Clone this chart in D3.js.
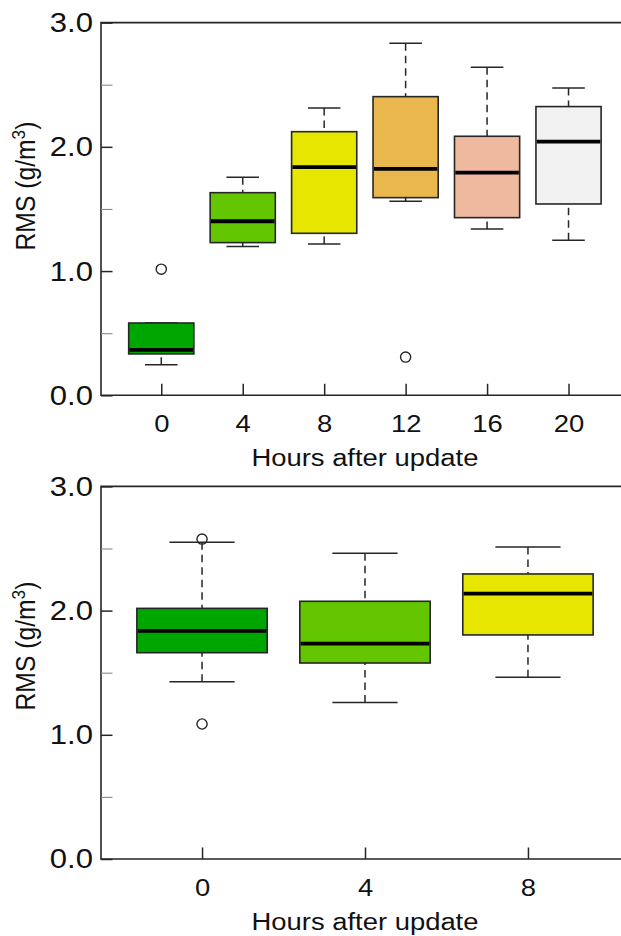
<!DOCTYPE html>
<html>
<head>
<meta charset="utf-8">
<script src="https://cdn.jsdelivr.net/npm/d3@7"></script>
<style>
  html, body { margin: 0; padding: 0; background: #fff; }
  svg { display: block; }
  text { font-family: "Liberation Sans", Arial, sans-serif; fill: #111; }
</style>
</head>
<body>
<svg id="chart" width="621" height="936"></svg>
<script>
// ---------------- DATA ----------------
// Top panel
const topHours = ["0", "4", "8", "12", "16", "20"];
const topColors = ["#00A600", "#63C600", "#E6E600", "#EAB64E", "#EEB99F", "#F2F2F2"];
const topLowerWhisker = [0.246, 1.197, 1.218, 1.562, 1.339, 1.248];
const topQ1 = [0.333, 1.229, 1.304, 1.591, 1.430, 1.540];
const topMedian = [0.366, 1.401, 1.836, 1.822, 1.792, 2.042];
const topQ3 = [0.582, 1.631, 2.122, 2.404, 2.085, 2.324];
const topUpperWhisker = [0.582, 1.755, 2.313, 2.834, 2.641, 2.474];
const topOutliers = [[1.015], [], [], [0.308], [], []];

// Bottom panel
const botHours = ["0", "4", "8"];
const botColors = ["#00A600", "#63C600", "#E6E600"];
const botLowerWhisker = [1.428, 1.261, 1.463];
const botQ1 = [1.661, 1.578, 1.804];
const botMedian = [1.836, 1.734, 2.136];
const botQ3 = [2.018, 2.075, 2.295];
const botUpperWhisker = [2.550, 2.461, 2.512];
const botOutliers = [[2.576, 1.087], [], []];

// Axis ticks
const yMajorTicks = [0, 1, 2, 3];
const yMinorTicks = [0.5, 1.5, 2.5];
const xTitle = "Hours after update";

// ---------------- DRAW ----------------
const svg = d3.select("#chart");
const FONT = 24.7;
const YFONT = 28;
const STRETCH = 1.11;
const INK = "#262626";

function stretchText(sel) {
  sel.each(function () {
    const t = d3.select(this);
    const x = +t.attr("x") || 0;
    t.attr("transform", `translate(${x},0) scale(${STRETCH},1) translate(${-x},0)`);
  });
}

function panel(cfg) {
  const n = cfg.hours.length;
  const x = d3.scaleLinear()
    .domain([0.5 - 0.04 * n, n + 0.5 + 0.04 * n])
    .range([cfg.left, cfg.right]);
  const y = d3.scaleLinear().domain([0, 3]).range([cfg.bottom, cfg.top]);
  const step = x(2) - x(1);
  const boxW = step * 0.8;
  const capW = boxW * 0.5;

  const g = svg.append("g");

  const data = cfg.hours.map((h, i) => ({
    i, h, pos: i + 1,
    lw: cfg.lw[i], q1: cfg.q1[i], med: cfg.med[i], q3: cfg.q3[i], uw: cfg.uw[i],
    out: cfg.out[i], color: cfg.colors[i]
  }));

  const bx = g.selectAll("g.box").data(data).enter().append("g").attr("class", "box");

  // dashed whiskers (from whisker end to box)
  bx.append("line")
    .attr("x1", d => x(d.pos)).attr("x2", d => x(d.pos))
    .attr("y1", d => y(d.uw)).attr("y2", d => y(d.q3))
    .attr("stroke", INK).attr("stroke-width", 1.5).attr("stroke-dasharray", "7.5,5");
  bx.append("line")
    .attr("x1", d => x(d.pos)).attr("x2", d => x(d.pos))
    .attr("y1", d => y(d.lw)).attr("y2", d => y(d.q1))
    .attr("stroke", INK).attr("stroke-width", 1.5).attr("stroke-dasharray", "7.5,5");
  // staples
  bx.append("line")
    .attr("x1", d => x(d.pos) - capW / 2).attr("x2", d => x(d.pos) + capW / 2)
    .attr("y1", d => y(d.uw)).attr("y2", d => y(d.uw))
    .attr("stroke", INK).attr("stroke-width", 1.5);
  bx.append("line")
    .attr("x1", d => x(d.pos) - capW / 2).attr("x2", d => x(d.pos) + capW / 2)
    .attr("y1", d => y(d.lw)).attr("y2", d => y(d.lw))
    .attr("stroke", INK).attr("stroke-width", 1.5);
  // box
  bx.append("rect")
    .attr("x", d => x(d.pos) - boxW / 2).attr("width", boxW)
    .attr("y", d => y(d.q3)).attr("height", d => y(d.q1) - y(d.q3))
    .attr("fill", d => d.color).attr("stroke", INK).attr("stroke-width", 1.6);
  // median
  bx.append("line")
    .attr("x1", d => x(d.pos) - boxW / 2 + 0.8).attr("x2", d => x(d.pos) + boxW / 2 - 0.8)
    .attr("y1", d => y(d.med)).attr("y2", d => y(d.med))
    .attr("stroke", "#000").attr("stroke-width", 3.8);
  // outliers
  bx.selectAll("circle").data(d => d.out.map(v => ({ pos: d.pos, v }))).enter()
    .append("circle")
    .attr("cx", d => x(d.pos)).attr("cy", d => y(d.v)).attr("r", 5.1)
    .attr("fill", "none").attr("stroke", INK).attr("stroke-width", 1.4);

  // Frame (right side runs past the page edge)
  g.append("path")
    .attr("d", `M${x.range()[1]},${y(3)}H${x.range()[0]}V${y(0)}H${x.range()[1]}`)
    .attr("fill", "none").attr("stroke", INK).attr("stroke-width", 1.6);

  // Y axis: minor ticks
  const yMinor = g.append("g").attr("transform", `translate(${cfg.left},0)`)
    .call(d3.axisLeft(y).tickValues(yMinorTicks).tickSize(-11.5).tickFormat(""));
  yMinor.select(".domain").remove();
  yMinor.selectAll("line").attr("stroke", "#8a8a8a").attr("stroke-width", 1.1);

  // Y axis: major ticks with labels
  const yMajor = g.append("g").attr("transform", `translate(${cfg.left},0)`)
    .call(d3.axisLeft(y).tickValues(yMajorTicks).tickSize(-11.5).tickPadding(8)
      .tickFormat(d3.format(".1f")));
  yMajor.select(".domain").remove();
  yMajor.selectAll("line").attr("stroke", INK).attr("stroke-width", 1.5);
  yMajor.selectAll("text").attr("font-size", YFONT).attr("fill", "#111")
    .style("font-family", '"Liberation Sans", Arial, sans-serif');
  stretchText(yMajor.selectAll("text"));

  // X axis
  const xAx = g.append("g").attr("transform", `translate(0,${cfg.bottom})`)
    .call(d3.axisBottom(x).tickValues(d3.range(1, n + 1)).tickSize(-11.5).tickPadding(19.5)
      .tickFormat(d => cfg.hours[d - 1]));
  xAx.select(".domain").remove();
  xAx.selectAll("line").attr("stroke", INK).attr("stroke-width", 1.5);
  xAx.selectAll("text").attr("font-size", FONT).attr("fill", "#111")
    .style("font-family", '"Liberation Sans", Arial, sans-serif')
    .attr("transform", `scale(${STRETCH},1)`);

  // X title
  const cx = (x.range()[0] + x.range()[1]) / 2;
  g.append("text")
    .attr("transform", `translate(${cx},${cfg.bottom + 71}) scale(${STRETCH},1)`)
    .attr("text-anchor", "middle").attr("font-size", FONT)
    .text(xTitle);

  // Y title
  const yt = g.append("text")
    .attr("transform", `translate(35,${cfg.yTitleY}) scale(${STRETCH},1) rotate(-90)`)
    .attr("text-anchor", "middle").attr("font-size", FONT);
  yt.append("tspan").text("RMS (g/m");
  yt.append("tspan").attr("font-size", FONT * 0.7).attr("dy", -FONT * 0.38).text("3");
  yt.append("tspan").attr("dy", FONT * 0.38).text(")");
}

panel({
  hours: topHours, colors: topColors,
  lw: topLowerWhisker, q1: topQ1, med: topMedian, q3: topQ3, uw: topUpperWhisker, out: topOutliers,
  left: 101, right: 628.8, top: 22.6, bottom: 395.3, yTitleY: 186
});

panel({
  hours: botHours, colors: botColors,
  lw: botLowerWhisker, q1: botQ1, med: botMedian, q3: botQ3, uw: botUpperWhisker, out: botOutliers,
  left: 101, right: 629, top: 486.4, bottom: 859, yTitleY: 646
});
</script>
</body>
</html>
